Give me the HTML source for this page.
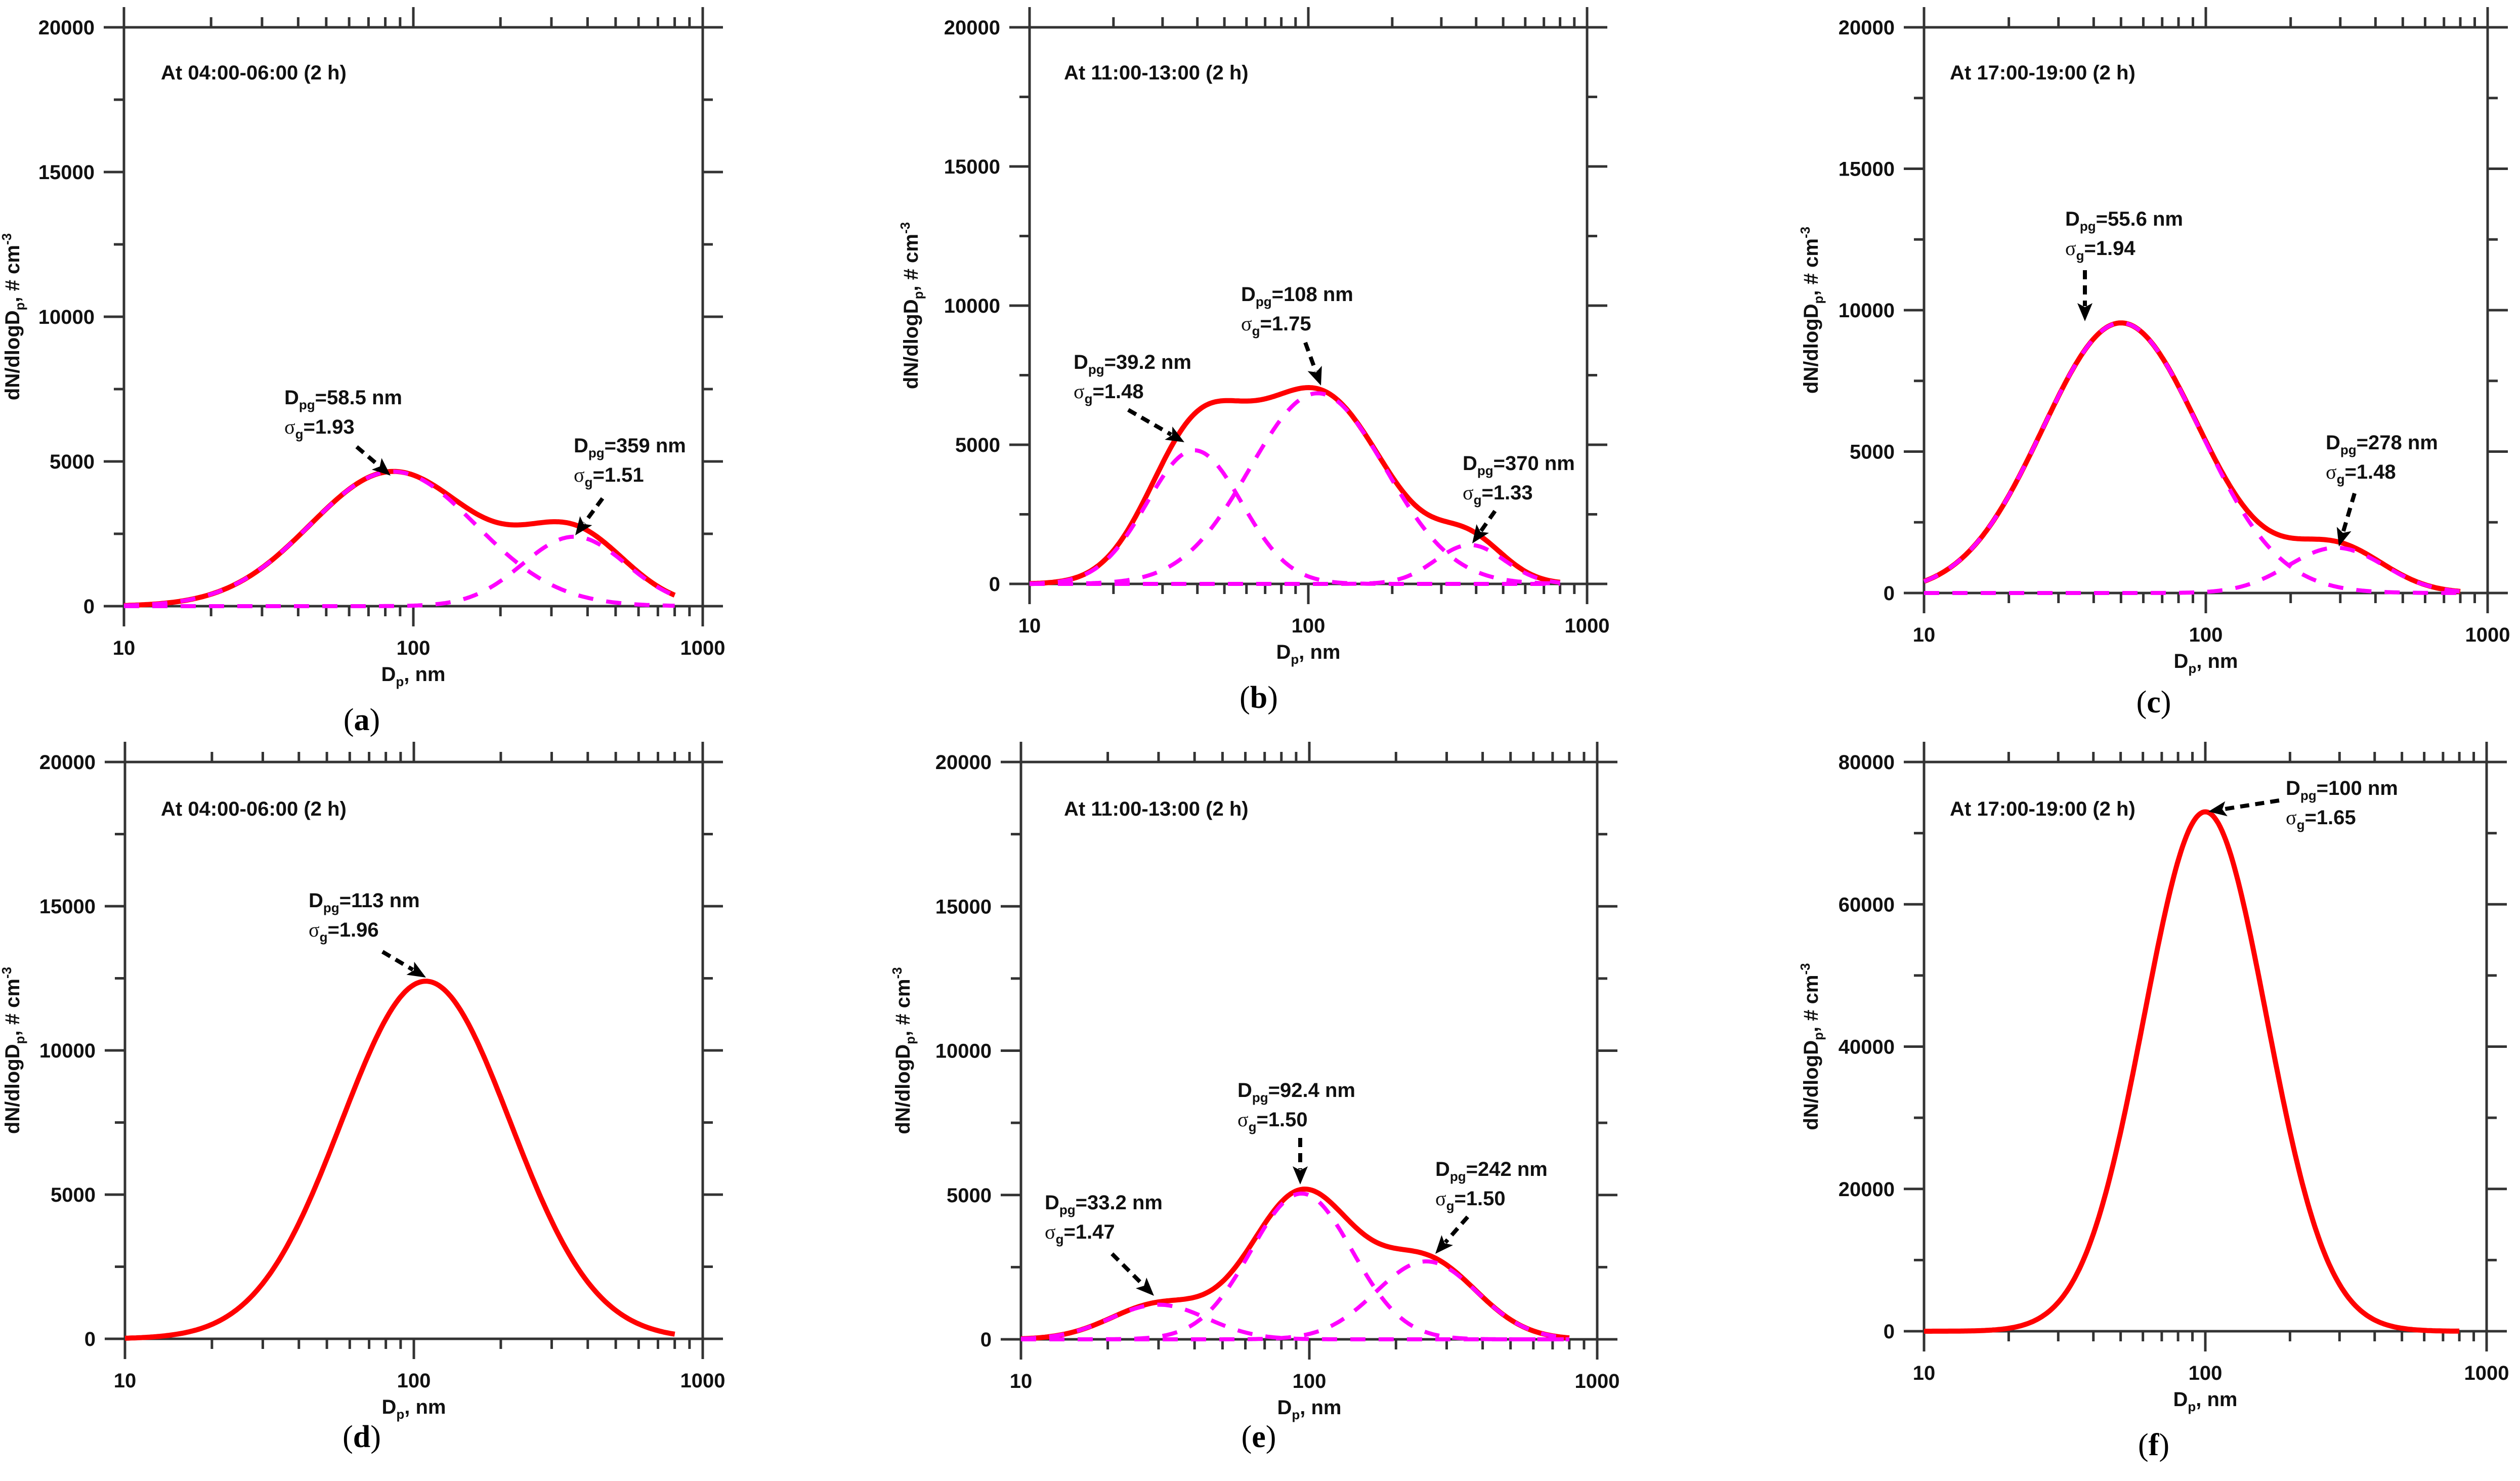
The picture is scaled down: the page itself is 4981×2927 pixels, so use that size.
<!DOCTYPE html>
<html><head><meta charset="utf-8"><title>Size distributions</title>
<style>
html,body{margin:0;padding:0;background:#fff;}
svg{display:block;font-family:"Liberation Sans",sans-serif;}
</style></head>
<body>
<svg id="fig" width="4981" height="2927" viewBox="0 0 4981 2927" xmlns="http://www.w3.org/2000/svg"></svg>
<script>
// ---- Data ----
const panelIds = ['a','b','c','d','e','f'];
const panelTitles = ['At 04:00-06:00 (2 h)','At 11:00-13:00 (2 h)','At 17:00-19:00 (2 h)','At 04:00-06:00 (2 h)','At 11:00-13:00 (2 h)','At 17:00-19:00 (2 h)'];
const yMaxes = [20000,20000,20000,20000,20000,80000];
const yMajorSteps = [5000,5000,5000,5000,5000,20000];
const xTickLabels = ['10','100','1000'];
// lognormal modes per panel: centre diameter (nm), geometric sigma, peak height
const modeCenters = [[85,360],[39,108,380],[50,290],[110],[30,94,255],[100]];
const modeSigmas  = [[1.93,1.51],[1.48,1.75,1.33],[1.90,1.48],[1.96],[1.47,1.50,1.50],[1.65]];
const modeHeights = [[4650,2400],[4800,6850,1400],[9550,1600],[12400],[1200,5050,2700],[73000]];
const annDpg   = [['58.5 nm','359 nm'],['39.2 nm','108 nm','370 nm'],['55.6 nm','278 nm'],['113 nm'],['33.2 nm','92.4 nm','242 nm'],['100 nm']];
const annSigma = [['1.93','1.51'],['1.48','1.75','1.33'],['1.94','1.48'],['1.96'],['1.47','1.50','1.50'],['1.65']];

// ---- Layout (pixels) ----
const L = {
 a:{x:[245,817,1389],y0:1198,y1:54, title:[318,143], ytx:38, lab:[715,1423]},
 b:{x:[2035,2586,3137],y0:1154,y1:54, title:[2103,143], ytx:1814, lab:[2488,1379]},
 c:{x:[3803,4360,4917],y0:1172,y1:54, title:[3854,143], ytx:3593, lab:[4257,1388]},
 d:{x:[247,818,1389],y0:2646,y1:1506, title:[318,1598], ytx:38, lab:[715,2840]},
 e:{x:[2018,2588,3157],y0:2647,y1:1506, title:[2103,1598], ytx:1798, lab:[2488,2840]},
 f:{x:[3803,4359,4915],y0:2631,y1:1506, title:[3854,1598], ytx:3593, lab:[4257,2856]}
};
// annotation anchors: [textX, textCenterY(Dpg line), arrowFrom x,y, arrowTo x,y]
const A = {
 a:[[562,785,705,883,772,940],[1134,880,1191,985,1137,1058]],
 b:[[2122,715,2230,810,2341,874],[2453,581,2580,677,2611,762],[2891,915,2955,1010,2910,1074]],
 c:[[4082,432,4121,534,4121,635],[4597,874,4654,975,4623,1080]],
 d:[[610,1779,756,1881,842,1932]],
 e:[[2065,2376,2198,2478,2281,2561],[2446,2154,2570,2249,2570,2341],[2837,2310,2901,2405,2837,2478]],
 f:[[4518,1557,4505,1582,4365,1604]]
};

const NS='http://www.w3.org/2000/svg';
const svg=document.getElementById('fig');
function mk(tag,attrs,parent){const e=document.createElementNS(NS,tag);for(const k in attrs)e.setAttribute(k,attrs[k]);(parent||svg).appendChild(e);return e;}

function xScale(p,v){const l=Math.log10(v);if(l<=2)return p.x[0]+(l-1)*(p.x[1]-p.x[0]);return p.x[1]+(l-2)*(p.x[2]-p.x[1]);}
function yScale(p,ymax,v){return p.y0-(v/ymax)*(p.y0-p.y1);}
function modeVal(c,s,h,d){const z=Math.log(d/c)/Math.log(s);return h*Math.exp(-z*z/2);}

panelIds.forEach((id,pi)=>{
 const p=L[id];const ymax=yMaxes[pi];const step=yMajorSteps[pi];
 const g=mk('g',{});
 
 
 const xl=p.x[0],xr=p.x[2],yb=p.y0,yt=p.y1;
 const ax=mk('g',{stroke:'#333','stroke-width':5,fill:'none'},g);
 
 
 mk('line',{x1:xl-40,y1:yb,x2:xr+40,y2:yb},ax);
 mk('line',{x1:xl-40,y1:yt,x2:xr+40,y2:yt},ax);
 mk('line',{x1:xl,y1:yt-40,x2:xl,y2:yb+40},ax);
 mk('line',{x1:xr,y1:yt-40,x2:xr,y2:yb+40},ax);
 [10,100].forEach(dec=>{for(let k=2;k<=9;k++){const x=xScale(p,dec*k);
   mk('line',{x1:x,y1:yb,x2:x,y2:yb+20},ax);mk('line',{x1:x,y1:yt,x2:x,y2:yt-20},ax);}});
 const xm=xScale(p,100);mk('line',{x1:xm,y1:yb,x2:xm,y2:yb+40},ax);mk('line',{x1:xm,y1:yt,x2:xm,y2:yt-40},ax);
 for(let v=0;v<=ymax;v+=step/2){const y=yScale(p,ymax,v);const len=(v%step===0)?40:20;
   mk('line',{x1:xl,y1:y,x2:xl-len,y2:y},ax);mk('line',{x1:xr,y1:y,x2:xr+len,y2:y},ax);}
 [10,100,1000].forEach((v,i)=>{const t=mk('text',{x:xScale(p,v),y:yb+96,'font-size':40,'font-weight':'bold','text-anchor':'middle',fill:'#111'},g);t.textContent=xTickLabels[i];
   
   });
 for(let v=0;v<=ymax;v+=step){const t=mk('text',{x:xl-58,y:yScale(p,ymax,v)+14,'font-size':40,'font-weight':'bold','text-anchor':'end',fill:'#111'},g);t.textContent=String(v);
   
   }
 const xt=mk('text',{x:xScale(p,100),y:yb+148,'font-size':40,'font-weight':'bold','text-anchor':'middle',fill:'#111'},g);
 
 
 xt.innerHTML='D<tspan font-size="26" dy="10">p</tspan><tspan dy="-10">, nm</tspan>';
 const cy=(yb+yt)/2;
 const yt2=mk('text',{x:p.ytx,y:cy,'font-size':40,'font-weight':'bold','text-anchor':'middle',fill:'#111',transform:'rotate(-90 '+(p.ytx)+' '+cy+')'},g);
 
 
 yt2.innerHTML='dN/dlogD<tspan font-size="26" dy="10">p</tspan><tspan dy="-10">, # cm</tspan><tspan font-size="26" dy="-16">-3</tspan>';
 const tt=mk('text',{x:p.title[0],y:p.title[1]+14,'font-size':40,'font-weight':'bold',fill:'#111'},g);
 tt.textContent=panelTitles[pi];
 
 
 const cs=modeCenters[pi],ss=modeSigmas[pi],hs=modeHeights[pi];
 const N=300;const d0=10,d1=800;
 const pts=[];for(let i=0;i<=N;i++){pts.push(Math.pow(10,Math.log10(d0)+i/N*(Math.log10(d1)-Math.log10(d0))));}
 const total=mk('path',{d:pts.map((d,i)=>{let s=0;for(let m=0;m<cs.length;m++)s+=modeVal(cs[m],ss[m],hs[m],d);return (i?'L':'M')+xScale(p,d).toFixed(1)+','+yScale(p,ymax,s).toFixed(1);}).join(''),stroke:'#ff0000','stroke-width':10,fill:'none','stroke-linejoin':'round'},g);
 
 
 if(cs.length>1){for(let m=0;m<cs.length;m++){
   const dp=mk('path',{d:pts.map((d,i)=>(i?'L':'M')+xScale(p,d).toFixed(1)+','+yScale(p,ymax,modeVal(cs[m],ss[m],hs[m],d)).toFixed(1)).join(''),stroke:'#ff00ff','stroke-width':8,fill:'none','stroke-dasharray':'30 26'},g);
   
   }}
 A[id].forEach((a,k)=>{
   const t1=mk('text',{x:a[0],y:a[1]+14,'font-size':40,'font-weight':'bold',fill:'#111'},g);
   t1.innerHTML='D<tspan font-size="26" dy="10">pg</tspan><tspan dy="-10">='+annDpg[pi][k]+'</tspan>';
   
   
   const t2=mk('text',{x:a[0],y:a[1]+72,'font-size':40,'font-weight':'bold',fill:'#111'},g);
   t2.innerHTML='<tspan font-family="Liberation Serif, serif" font-weight="normal">σ</tspan><tspan font-size="26" dy="10">g</tspan><tspan dy="-10">='+annSigma[pi][k]+'</tspan>';
   
   
   const dx=a[4]-a[2],dy=a[5]-a[3],len=Math.hypot(dx,dy),ux=dx/len,uy=dy/len;
   const bx=a[4]-ux*30,by=a[5]-uy*30;
   const ar=mk('line',{x1:a[2],y1:a[3],x2:bx,y2:by,stroke:'#000','stroke-width':8,'stroke-dasharray':'18 12'},g);
   
   
   const hd=mk('polygon',{points:[a[4],a[5],bx-uy*15-ux*6,by+ux*15-uy*6,bx+ux*2,by+uy*2,bx+uy*15-ux*6,by-ux*15-uy*6].join(','),fill:'#000'},g);
   
   
 });
 const lt=mk('text',{x:p.lab[0],y:p.lab[1]+20,'font-size':62,'font-family':'Liberation Serif, serif','text-anchor':'middle',fill:'#000'},g);
 lt.innerHTML='(<tspan font-weight="bold">'+id+'</tspan>)';
 
 
});
</script>
</body></html>
